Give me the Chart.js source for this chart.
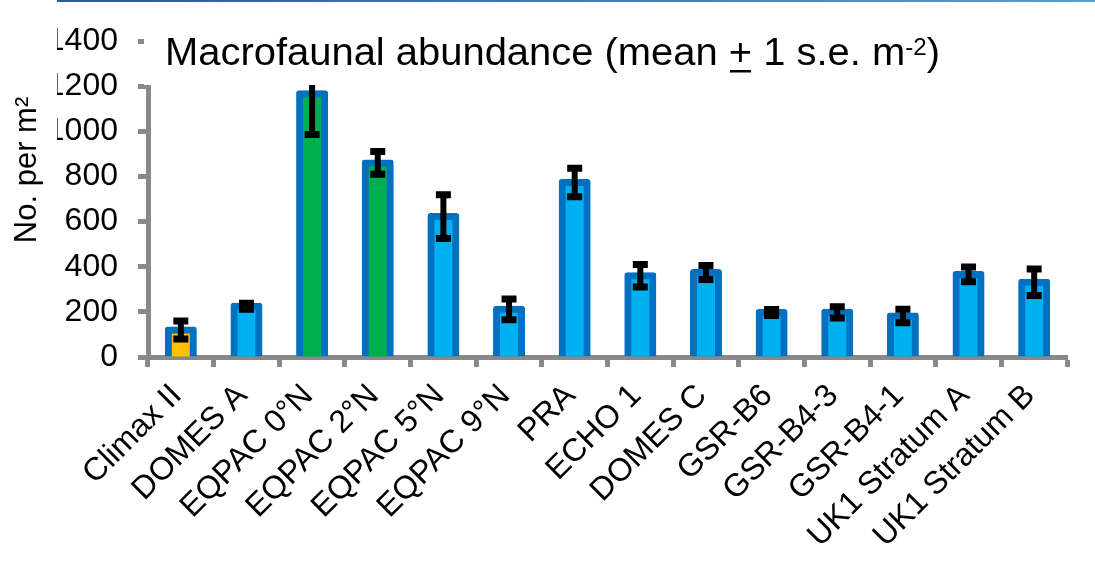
<!DOCTYPE html>
<html>
<head>
<meta charset="utf-8">
<script src="https://cdn.jsdelivr.net/npm/chart.js@4.4.1/dist/chart.umd.min.js"></script>
<style>
html,body{margin:0;padding:0;background:#ffffff;overflow:hidden;}
#wrap{width:1095px;height:569px;position:relative;}
canvas{display:block;}
</style>
</head>
<body>
<div id="wrap"><canvas id="c" width="1095" height="569"></canvas></div>
<script>
// ---- data ----
const categories = ['Climax II','DOMES A','EQPAC 0°N','EQPAC 2°N','EQPAC 5°N','EQPAC 9°N','PRA','ECHO 1','DOMES C','GSR-B6','GSR-B4-3','GSR-B4-1','UK1 Stratum A','UK1 Stratum B'];
const meanAbundance = [120, 225, 1166, 860, 622, 211, 773, 360, 374, 197, 198, 182, 366, 331];
const stdError = [40, 13, 180, 50, 97, 46, 63, 50, 31, 13, 25, 30, 33, 59];
const yTickValues = [0, 200, 400, 600, 800, 1000, 1200, 1400];
const titleParts = ['Macrofaunal abundance (mean ', '+', ' 1 s.e. m', '-2', ')'];
const yAxisTitle = 'No. per m²';

// ---- styles ----
const FONT = '"Liberation Sans", Arial, sans-serif';
const AXIS = '#898989';
const BORDER_BLUE = '#0070C0';
const FILL_DEFAULT = '#00B0F0';
const FILL_SPECIAL = { 'Climax II': '#FFC000', 'EQPAC 0°N': '#00B050', 'EQPAC 2°N': '#00B050' };

const errorBarPlugin = {
  id: 'errorBars',
  afterDatasetsDraw(chart) {
    const ctx = chart.ctx, xs = chart.scales.x, ys = chart.scales.y;
    ctx.save();
    ctx.strokeStyle = '#000';
    ctx.lineCap = 'butt';
    meanAbundance.forEach((m, i) => {
      const x = xs.getPixelForValue(i);
      const yt = ys.getPixelForValue(m + stdError[i]);
      const yb = ys.getPixelForValue(m - stdError[i]);
      ctx.lineWidth = 6;
      ctx.beginPath(); ctx.moveTo(x, yt); ctx.lineTo(x, yb); ctx.stroke();
      ctx.lineWidth = 7;
      ctx.beginPath();
      ctx.moveTo(x - 7.5, yt); ctx.lineTo(x + 7.5, yt);
      ctx.moveTo(x - 7.5, yb); ctx.lineTo(x + 7.5, yb);
      ctx.stroke();
    });
    ctx.restore();
  }
};

const decorPlugin = {
  id: 'decor',
  afterDraw(chart) {
    const ctx = chart.ctx;
    ctx.save();
    // title box (white) hides top of axis
    ctx.fillStyle = '#fff';
    ctx.fillRect(144, 30, 820, 55);
    // left clipping of wide tick labels
    ctx.fillRect(0, 0, 57, 160);
    // top decorative line
    const g = ctx.createLinearGradient(57, 0, 1095, 0);
    g.addColorStop(0, '#2F55A4');
    g.addColorStop(1, '#5B9BD5');
    ctx.fillStyle = g;
    ctx.fillRect(57, 0, 1038, 2);
    // title
    ctx.fillStyle = '#000';
    ctx.textBaseline = 'alphabetic';
    ctx.textAlign = 'left';
    const big = '38px ' + FONT, small = '23px ' + FONT;
    ctx.font = big;
    const w0 = ctx.measureText(titleParts[0]).width;
    const w1 = ctx.measureText(titleParts[1]).width;
    const w2 = ctx.measureText(titleParts[2]).width;
    const w4 = ctx.measureText(titleParts[4]).width;
    ctx.font = small;
    const w3 = ctx.measureText(titleParts[3]).width;
    const total = w0 + w1 + w2 + w3 + w4;
    const sx = 775 / total;
    ctx.translate(165, 65);
    ctx.scale(sx, 1);
    let x = 0;
    ctx.font = big;
    ctx.fillText(titleParts[0], x, 0); x += w0;
    ctx.fillText(titleParts[1], x, 0);
    ctx.fillRect(x + 1, 5, w1 - 2, 2.5);
    x += w1;
    ctx.fillText(titleParts[2], x, 0); x += w2;
    ctx.font = small;
    ctx.fillText(titleParts[3], x, -10); x += w3;
    ctx.font = big;
    ctx.fillText(titleParts[4], x, 0);
    ctx.restore();
    // y axis title
    ctx.save();
    ctx.fillStyle = '#000';
    ctx.font = '31px ' + FONT;
    ctx.textAlign = 'center';
    ctx.textBaseline = 'middle';
    ctx.translate(27, 170);
    ctx.rotate(-Math.PI / 2);
    ctx.fillText(yAxisTitle, 0, 0);
    ctx.restore();
  }
};

new Chart(document.getElementById('c'), {
  type: 'bar',
  data: {
    labels: categories,
    datasets: [{
      data: meanAbundance,
      backgroundColor: categories.map(c => FILL_SPECIAL[c] || FILL_DEFAULT),
      borderColor: BORDER_BLUE,
      borderWidth: 7,
      borderSkipped: 'start',
      borderRadius: 3,
      inflateAmount: 3.5,
      barPercentage: 25 / 65.64,
      categoryPercentage: 1
    }]
  },
  options: {
    responsive: false,
    animation: false,
    devicePixelRatio: 1,
    layout: { padding: { left: 0, right: 28, top: 41, bottom: 0 } },
    plugins: { legend: { display: false }, tooltip: { enabled: false }, title: { display: false } },
    scales: {
      x: {
        type: 'category',
        offset: true,
        z: 1,
        grid: { display: true, drawOnChartArea: false, drawTicks: true, tickLength: 10, tickWidth: 5, tickColor: AXIS, offset: true },
        border: { display: true, color: AXIS, width: 5 },
        ticks: { autoSkip: false, minRotation: 45, maxRotation: 45, color: '#000', font: { family: FONT, size: 32 }, padding: 10, labelOffset: -4 },
        afterFit: s => { s.height = 212; }
      },
      y: {
        min: 0,
        max: 1400,
        afterBuildTicks: s => { s.ticks = yTickValues.map(v => ({ value: v })); },
        grid: { display: true, drawOnChartArea: false, drawTicks: true, tickLength: 10, tickWidth: 5, tickColor: AXIS },
        border: { display: true, color: AXIS, width: 5 },
        ticks: { color: '#000', font: { family: FONT, size: 32 }, padding: 20, callback: v => String(v) },
        afterFit: s => { s.width = 148; }
      }
    }
  },
  plugins: [errorBarPlugin, decorPlugin]
});
</script>
</body>
</html>
